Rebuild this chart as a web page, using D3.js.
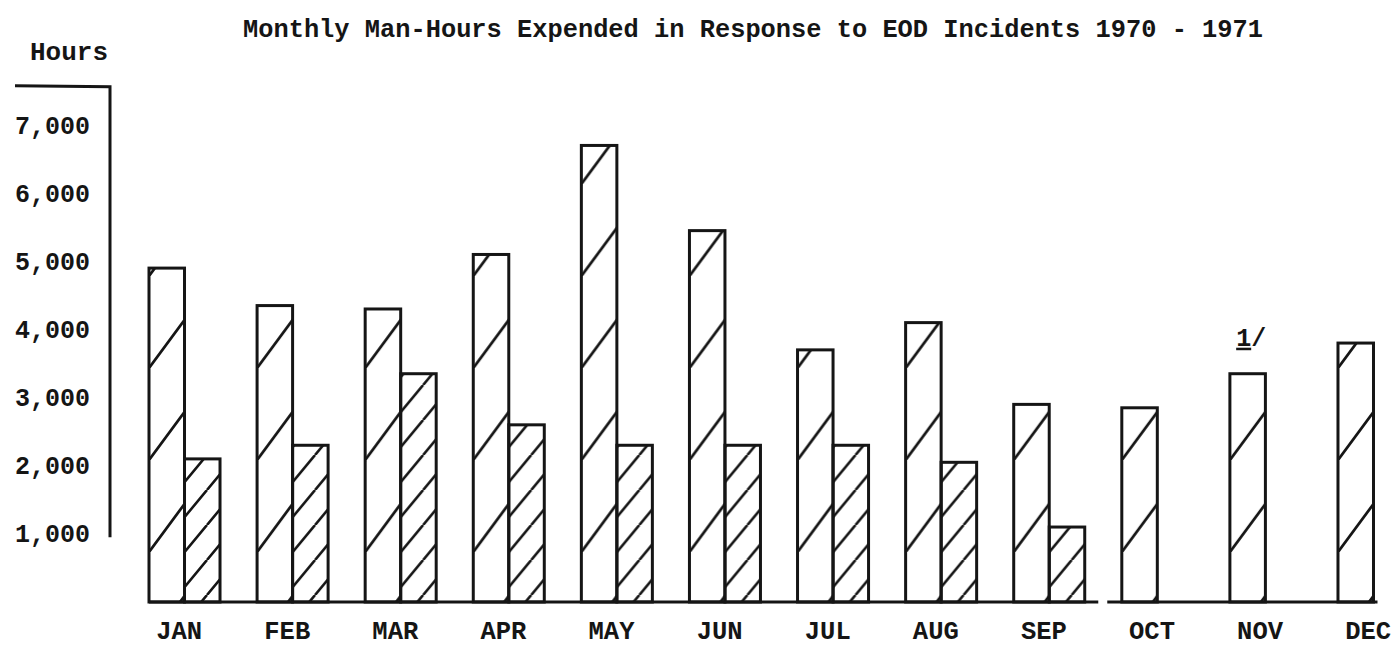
<!DOCTYPE html>
<html>
<head>
<meta charset="utf-8">
<script src="https://cdn.jsdelivr.net/npm/d3@7"></script>
<style>
  html, body { margin: 0; padding: 0; background: #fff; }
  svg { display: block; }
  text { font-family: "Liberation Mono", "DejaVu Sans Mono", monospace; font-weight: bold; fill: #151515; }
</style>
</head>
<body>
<svg id="chart" width="1393" height="658"></svg>
<script>
// ---- data ----
const titleText = "Monthly Man-Hours Expended in Response to EOD Incidents 1970 - 1971";
const yAxisTitle = "Hours";
const months = ["JAN", "FEB", "MAR", "APR", "MAY", "JUN", "JUL", "AUG", "SEP", "OCT", "NOV", "DEC"];
const seriesNames = ["1970", "1971"];
const hours1970 = [4900, 4350, 4300, 5100, 6700, 5450, 3700, 4100, 2900, 2850, 3350, 3800];
const hours1971 = [2100, 2300, 3350, 2600, 2300, 2300, 2300, 2050, 1100, null, null, null];
const yTickValues = [1000, 2000, 3000, 4000, 5000, 6000, 7000];
const yTickLabels = ["1,000", "2,000", "3,000", "4,000", "5,000", "6,000", "7,000"];
const footnoteMonth = "NOV";
const footnoteText = "1";
const breakAfter = "SEP";

// ---- layout ----
const svg = d3.select("#chart");
const ink = "#151515";
const sw = 3;

const y = d3.scaleLinear().domain([0, 7000]).range([602, 125]);
const x = d3.scaleBand().domain(months).range([149, 1409]).paddingInner(0.343).paddingOuter(0);
const x1 = d3.scaleBand().domain(seriesNames).range([0, x.bandwidth()]);

// ---- hatch patterns ----
const defs = svg.append("defs");
function hatch(id, W, H, w) {
  const p = defs.append("pattern").attr("id", id)
    .attr("patternUnits", "userSpaceOnUse")
    .attr("width", W).attr("height", H);
  p.append("path")
    .attr("d", `M0,${H} L${W},0 M${-W},${H} L0,0 M${W},${H} L${2 * W},0`)
    .attr("stroke", ink).attr("stroke-width", w).attr("fill", "none");
}
hatch("hatchSparse", 68, 92, 2.8);
hatch("hatchDense", 29, 35, 2.6);

// ---- title ----
svg.append("text").attr("x", 243).attr("y", 37)
  .attr("font-size", 25).attr("textLength", 1020).attr("lengthAdjust", "spacingAndGlyphs")
  .text(titleText);
svg.append("text").attr("x", 30).attr("y", 60)
  .attr("font-size", 25).attr("textLength", 78).attr("lengthAdjust", "spacingAndGlyphs")
  .text(yAxisTitle);

// ---- y axis (bracket line + labels) ----
const axisX = 110;
svg.append("path")
  .attr("d", `M15,${y(7575)} L${axisX},${y(7560)} L${axisX},${y(950)}`)
  .attr("fill", "none").attr("stroke", ink).attr("stroke-width", sw);

const yAxis = d3.axisLeft(y).tickValues(yTickValues)
  .tickFormat((d, i) => yTickLabels[i]).tickSize(0).tickPadding(0);
const yg = svg.append("g").attr("transform", "translate(90,0)").call(yAxis);
yg.select(".domain").remove();
yg.selectAll("text")
  .attr("font-size", 25).attr("fill", ink)
  .attr("textLength", 75).attr("lengthAdjust", "spacingAndGlyphs")
  .style("font-family", '"Liberation Mono", monospace').style("font-weight", "bold");

// ---- bars ----
const data = months.map((m, i) => ({ month: m, values: [
  { key: seriesNames[0], v: hours1970[i] },
  { key: seriesNames[1], v: hours1971[i] }
].filter(d => d.v != null) }));

const groups = svg.append("g").selectAll("g").data(data).join("g")
  .attr("transform", d => `translate(${x(d.month)},0)`);

groups.selectAll("rect.bg").data(d => d.values).join("rect")
  .attr("class", "bg")
  .attr("x", d => x1(d.key)).attr("width", x1.bandwidth())
  .attr("y", d => y(d.v)).attr("height", d => y(0) - y(d.v))
  .attr("fill", "#fff");

groups.selectAll("rect.bar").data(d => d.values).join("rect")
  .attr("class", "bar")
  .attr("x", d => x1(d.key)).attr("width", x1.bandwidth())
  .attr("y", d => y(d.v)).attr("height", d => y(0) - y(d.v))
  .attr("fill", d => d.key === seriesNames[0] ? "url(#hatchSparse)" : "url(#hatchDense)")
  .attr("stroke", ink).attr("stroke-width", sw);

// ---- baseline with break ----
const breakX = (x(breakAfter) + x.bandwidth() + x(months[months.indexOf(breakAfter) + 1])) / 2;
svg.append("line").attr("x1", x(months[0])).attr("x2", breakX - 5)
  .attr("y1", y(0)).attr("y2", y(0)).attr("stroke", ink).attr("stroke-width", sw);
svg.append("line").attr("x1", breakX + 4).attr("x2", x(months[months.length - 1]) + x1.bandwidth() + 4)
  .attr("y1", y(0)).attr("y2", y(0)).attr("stroke", ink).attr("stroke-width", sw);

// ---- month labels ----
const xAxis = d3.axisBottom(x).tickSize(0).tickPadding(0);
const xg = svg.append("g").attr("transform", `translate(${x1.bandwidth() * 0.85 - x.bandwidth() / 2},${y(0) + 37})`).call(xAxis);
xg.select(".domain").remove();
xg.selectAll("text")
  .attr("dy", 0).attr("font-size", 25).attr("fill", ink)
  .attr("textLength", 46).attr("lengthAdjust", "spacingAndGlyphs")
  .style("font-family", '"Liberation Mono", monospace').style("font-weight", "bold");

// ---- footnote marker ----
const fi = months.indexOf(footnoteMonth);
const fx = x(footnoteMonth) + x1.bandwidth() * 0.6;
const fy = y(hours1970[fi]) - 28;
const ft = svg.append("text").attr("x", fx).attr("y", fy).attr("text-anchor", "middle").attr("font-size", 25);
ft.append("tspan").style("text-decoration", "underline").text(footnoteText);
ft.append("tspan").text("/");
</script>
</body>
</html>
